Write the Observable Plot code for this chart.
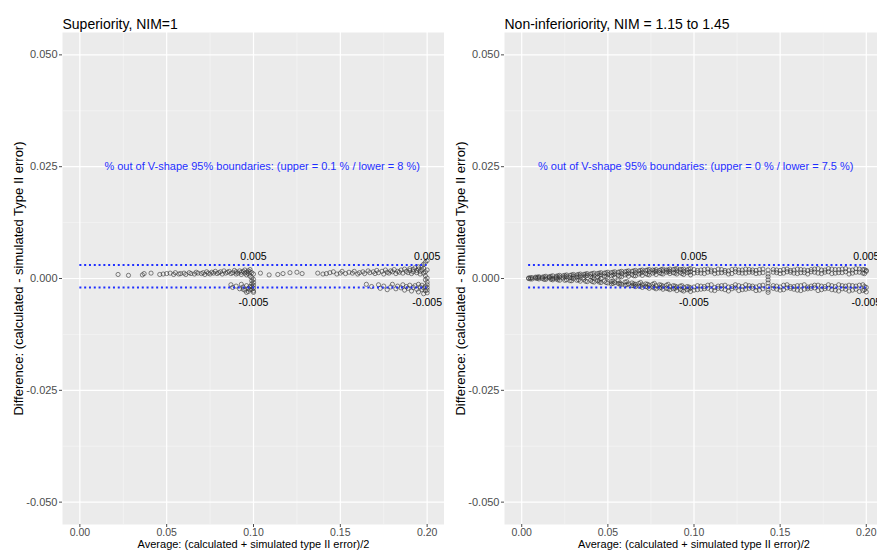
<!DOCTYPE html>
<html>
<head>
<meta charset="utf-8">
<script src="https://cdn.jsdelivr.net/npm/d3@7"></script>
<script src="https://cdn.jsdelivr.net/npm/@observablehq/plot@0.6"></script>
<style>
  html, body { margin: 0; padding: 0; background: white; }
  #wrap { width: 877px; height: 553px; overflow: hidden; display: flex; flex-direction: row; }
  #wrap svg { display: block; flex: none; }
</style>
</head>
<body>
<div id="wrap"></div>
<script>
// ---------- tick values ----------
const xTicks = [0, 0.05, 0.10, 0.15, 0.20];
const xMinor = [0.025, 0.075, 0.125, 0.175];
const yTicks = [-0.050, -0.025, 0.000, 0.025, 0.050];
const yMinor = [-0.0375, -0.0125, 0.0125, 0.0375];

// ---------- text ----------
const titleSup = "Superiority, NIM=1";
const titleNI = "Non-inferioriority, NIM = 1.15 to 1.45";
const xTitle = "Average: (calculated + simulated type II error)/2";
const yTitle = "Difference: (calculated - simulated Type II error)";
const noteSup = "% out of V-shape 95% boundaries: (upper = 0.1 % / lower = 8 %)";
const noteNI = "% out of V-shape 95% boundaries: (upper = 0 % / lower = 7.5 %)";

// boundary lines (dotted) and their labels
const boundsY = [0.003, -0.002];
const boundLabels = [
  {x: 0.10, y: 0.0049, t: "0.005"},
  {x: 0.20, y: 0.0049, t: "0.005"},
  {x: 0.10, y: -0.0054, t: "-0.005"},
  {x: 0.20, y: -0.0054, t: "-0.005"}
];

// ---------- Superiority panel points [average, difference] ----------
const supPoints = [
  [0.022,0.0009],[0.028,0.0007],[0.036,0.0008],[0.037,0.0011],[0.041,0.0012],[0.046,0.0009],
  [0.048,0.0010],[0.050,0.0011],[0.052,0.0012],[0.054,0.0009],[0.055,0.0013],[0.057,0.0010],
  [0.058,0.0011],[0.060,0.0012],[0.061,0.0009],[0.063,0.0013],[0.064,0.0011],[0.066,0.0010],
  [0.067,0.0014],[0.068,0.0012],[0.070,0.0011],[0.071,0.0013],[0.072,0.0009],[0.073,0.0015],
  [0.074,0.0012],[0.075,0.0010],[0.076,0.0014],[0.077,0.0012],[0.078,0.0016],[0.079,0.0011],
  [0.080,0.0013],[0.081,0.0015],[0.082,0.0010],[0.083,0.0017],[0.084,0.0012],[0.085,0.0014],
  [0.086,0.0016],[0.087,0.0011],[0.088,0.0013],[0.089,0.0018],[0.090,0.0015],[0.090,0.0010],
  [0.091,0.0012],[0.092,0.0017],[0.093,0.0014],[0.093,0.0009],[0.094,0.0016],[0.095,0.0012],
  [0.095,0.0019],[0.096,0.0014],[0.096,0.0008],[0.097,0.0017],[0.097,0.0011],[0.098,0.0015],
  [0.098,0.0005],[0.098,0.0020],[0.099,0.0013],[0.099,0.0002],[0.099,-0.0005],[0.099,-0.0012],
  [0.099,-0.0018],[0.099,-0.0024],[0.100,0.0010],[0.100,-0.0002],[0.100,-0.0009],[0.100,-0.0015],
  [0.100,-0.0021],[0.100,-0.0028],[0.100,-0.0031],
  [0.087,-0.0014],[0.088,-0.0020],[0.090,-0.0017],[0.092,-0.0023],[0.093,-0.0013],[0.094,-0.0019],
  [0.095,-0.0026],[0.096,-0.0016],[0.097,-0.0022],[0.097,-0.0029],[0.098,-0.0018],[0.098,-0.0025],
  [0.096,-0.0031],[0.094,-0.0024],
  [0.104,0.0012],[0.109,0.0008],[0.114,0.0009],[0.117,0.0011],[0.121,0.0013],[0.125,0.0014],
  [0.128,0.0011],[0.137,0.0012],[0.140,0.0010],[0.142,0.0011],[0.144,0.0013],[0.146,0.0015],
  [0.148,0.0010],[0.150,0.0012],[0.151,0.0016],[0.153,0.0011],[0.155,0.0014],[0.157,0.0012],
  [0.158,0.0016],[0.160,0.0010],[0.161,0.0013],[0.163,0.0015],[0.164,0.0011],[0.166,0.0017],
  [0.167,0.0013],[0.169,0.0015],[0.170,0.0011],[0.171,0.0018],[0.172,0.0013],[0.174,0.0016],
  [0.175,0.0010],[0.176,0.0019],[0.177,0.0014],[0.178,0.0012],[0.179,0.0017],[0.180,0.0015],
  [0.181,0.0020],[0.182,0.0011],[0.183,0.0016],[0.184,0.0014],[0.185,0.0019],[0.186,0.0012],
  [0.187,0.0021],[0.188,0.0016],[0.189,0.0013],[0.190,0.0018],[0.190,0.0022],[0.191,0.0011],
  [0.192,0.0015],[0.192,0.0020],[0.193,0.0024],[0.194,0.0013],[0.194,0.0018],[0.195,0.0021],
  [0.195,0.0026],[0.196,0.0010],[0.196,0.0016],[0.197,0.0019],[0.197,0.0028],[0.198,0.0012],
  [0.198,0.0023],[0.198,0.0032],[0.199,0.0015],[0.199,0.0036],[0.199,0.0006],[0.199,-0.0003],
  [0.200,0.0019],[0.200,0.0040],[0.200,0.0001],[0.200,-0.0008],[0.200,-0.0014],[0.200,-0.0020],
  [0.200,-0.0026],[0.200,-0.0032],
  [0.165,-0.0013],[0.168,-0.0018],[0.172,-0.0014],[0.173,-0.0022],[0.175,-0.0017],[0.177,-0.0025],
  [0.179,-0.0019],[0.180,-0.0013],[0.182,-0.0023],[0.183,-0.0017],[0.185,-0.0021],[0.186,-0.0014],
  [0.187,-0.0026],[0.188,-0.0018],[0.189,-0.0022],[0.190,-0.0015],[0.191,-0.0028],[0.192,-0.0020],
  [0.193,-0.0016],[0.194,-0.0024],[0.195,-0.0013],[0.195,-0.0030],[0.196,-0.0019],[0.197,-0.0025],
  [0.197,-0.0015],[0.198,-0.0021],[0.198,-0.0034],[0.199,-0.0018],[0.199,-0.0027]
];

// ---------- Non-inferiority panel: columns [average, [differences...]] ----------
const niColumns = [
  [0.004,[0.0001,0.0000]],[0.005,[0.0002,-0.0001]],[0.006,[0.0002,-0.0001]],[0.008,[0.0001,0.0003]],
  [0.009,[0.0003,0.0000]],[0.010,[0.0002,-0.0001,0.0004]],[0.012,[0.0003,0.0000]],
  [0.013,[0.0004,-0.0002]],[0.014,[0.0005,0.0001,-0.0002]],[0.016,[0.0004,0.0002]],
  [0.017,[0.0005,0.0001,-0.0002]],[0.018,[0.0006,0.0000,-0.0003]],[0.020,[0.0005,0.0002,-0.0001]],
  [0.021,[0.0006,0.0001,-0.0003]],[0.022,[0.0007,0.0003,-0.0004]],[0.024,[0.0006,0.0001]],
  [0.025,[0.0007,0.0003,-0.0004]],[0.026,[0.0008,0.0004,-0.0003]],[0.028,[0.0007,0.0002,-0.0005]],
  [0.029,[0.0008,0.0001,-0.0005]],[0.030,[0.0009,0.0005,0.0000]],[0.032,[0.0008,0.0003,-0.0004]],
  [0.033,[0.0009,0.0004,-0.0003]],[0.034,[0.0010,0.0006,-0.0006]],[0.036,[0.0009,0.0002,-0.0002]],
  [0.037,[0.0010,0.0005,-0.0006]],[0.038,[0.0011,0.0007,-0.0007]],[0.040,[0.0010,0.0004,-0.0004]],
  [0.041,[0.0011,0.0002,-0.0007]],[0.042,[0.0012,0.0006,-0.0008,0.0001]],[0.044,[0.0011,0.0003,-0.0005]],
  [0.045,[0.0012,0.0007,-0.0004,-0.0008]],[0.046,[0.0013,0.0008,-0.0009,0.0000]],
  [0.048,[0.0012,0.0005,-0.0006]],[0.049,[0.0013,0.0004,-0.0009]],
  [0.050,[0.0014,0.0009,-0.0010,0.0002]],[0.052,[0.0013,0.0006,-0.0007,-0.0012]],
  [0.053,[0.0014,0.0008,-0.0006,-0.0011]],[0.054,[0.0015,0.0010,0.0003,-0.0009]],
  [0.056,[0.0014,0.0007,-0.0011,-0.0005]],[0.057,[0.0015,0.0005,-0.0010,-0.0013]],
  [0.058,[0.0016,0.0011,0.0004,-0.0013]],[0.060,[0.0015,0.0008,-0.0008,-0.0015]],
  [0.061,[0.0016,0.0010,-0.0007,-0.0014]],[0.062,[0.0017,0.0012,0.0005,-0.0012]],
  [0.064,[0.0016,0.0009,-0.0010,-0.0016]],[0.065,[0.0017,0.0006,-0.0012,-0.0016]],
  [0.066,[0.0018,0.0013,0.0006,-0.0013,-0.0018]],[0.068,[0.0017,0.0010,-0.0011,-0.0017]],
  [0.069,[0.0018,0.0012,-0.0009,-0.0017]],[0.070,[0.0019,0.0014,0.0007,-0.0014,-0.0020]],
  [0.072,[0.0018,0.0011,-0.0012,-0.0018]],[0.073,[0.0019,0.0009,-0.0013,-0.0019]],
  [0.074,[0.0020,0.0015,0.0008,-0.0015,-0.0022]],[0.076,[0.0019,0.0012,-0.0013,-0.0019]],
  [0.077,[0.0018,0.0014,-0.0011,-0.0021]],[0.078,[0.0020,0.0016,0.0009,-0.0016,-0.0023]],
  [0.080,[0.0018,0.0013,-0.0014,-0.0021]],[0.081,[0.0020,0.0011,-0.0015,-0.0020]],
  [0.082,[0.0021,0.0017,0.0010,-0.0017,-0.0024]],[0.084,[0.0019,0.0014,-0.0015,-0.0022]],
  [0.085,[0.0019,0.0015,-0.0013,-0.0023]],[0.086,[0.0021,0.0016,0.0011,-0.0018,-0.0025]],
  [0.088,[0.0020,0.0013,-0.0016,-0.0023]],[0.089,[0.0021,0.0012,-0.0017,-0.0022]],
  [0.090,[0.0022,0.0017,0.0010,-0.0019,-0.0027]],[0.092,[0.0020,0.0014,-0.0017,-0.0024]],
  [0.093,[0.0020,0.0011,-0.0016,-0.0026]],[0.094,[0.0021,0.0016,0.0009,-0.0020,-0.0028]],
  [0.096,[0.0019,0.0013,-0.0018,-0.0025]],[0.097,[0.0021,0.0014,-0.0019,-0.0024]],
  [0.098,[0.0022,0.0015,0.0008,-0.0021,-0.0029]],[0.100,[0.0020,0.0012,-0.0019,-0.0026]],
  [0.102,[0.0018,0.0013,-0.0016,-0.0025]],[0.104,[0.0019,0.0012,-0.0017,-0.0024]],
  [0.106,[0.0020,0.0011,-0.0018,-0.0023]],[0.108,[0.0021,0.0014,-0.0015,-0.0022]],
  [0.110,[0.0019,0.0015,-0.0014,-0.0026]],[0.112,[0.0018,0.0011,-0.0020,-0.0027]],
  [0.114,[0.0021,0.0012,-0.0017,-0.0022]],[0.116,[0.0020,0.0013,-0.0016,-0.0023]],
  [0.118,[0.0018,0.0014,-0.0015,-0.0025]],[0.120,[0.0017,0.0010,-0.0019,-0.0028]],
  [0.122,[0.0020,0.0011,-0.0018,-0.0023]],[0.124,[0.0021,0.0015,-0.0014,-0.0021]],
  [0.126,[0.0019,0.0013,-0.0016,-0.0027]],[0.128,[0.0019,0.0012,-0.0018,-0.0025]],
  [0.130,[0.0021,0.0012,-0.0014,-0.0024]],[0.132,[0.0020,0.0014,-0.0016,-0.0022]],
  [0.134,[0.0019,0.0014,-0.0017,-0.0022]],[0.136,[0.0018,0.0011,-0.0019,-0.0027]],
  [0.138,[0.0020,0.0012,-0.0016,-0.0026]],[0.140,[0.0021,0.0013,-0.0015,-0.0023]],
  [0.143,[0.0019,0.0010,0.0004,-0.0003,-0.0010,-0.0018,-0.0026,-0.0031]],
  [0.146,[0.0020,0.0014,-0.0016,-0.0022]],[0.148,[0.0019,0.0013,-0.0017,-0.0024]],
  [0.150,[0.0018,0.0011,-0.0019,-0.0026]],[0.152,[0.0020,0.0012,-0.0015,-0.0025]],
  [0.154,[0.0021,0.0015,-0.0014,-0.0021]],[0.156,[0.0018,0.0014,-0.0018,-0.0022]],
  [0.158,[0.0019,0.0012,-0.0018,-0.0024]],[0.160,[0.0021,0.0011,-0.0016,-0.0026]],
  [0.162,[0.0020,0.0013,-0.0016,-0.0027]],[0.164,[0.0019,0.0013,-0.0014,-0.0024]],
  [0.166,[0.0018,0.0010,-0.0019,-0.0023]],[0.168,[0.0020,0.0015,-0.0017,-0.0022]],
  [0.170,[0.0021,0.0014,-0.0015,-0.0021]],[0.172,[0.0022,0.0012,-0.0015,-0.0027]],
  [0.174,[0.0019,0.0011,-0.0017,-0.0025]],[0.176,[0.0019,0.0014,-0.0018,-0.0023]],
  [0.178,[0.0022,0.0015,-0.0014,-0.0022]],[0.180,[0.0021,0.0011,-0.0016,-0.0025]],
  [0.182,[0.0020,0.0012,-0.0018,-0.0026]],[0.184,[0.0020,0.0013,-0.0014,-0.0028]],
  [0.186,[0.0021,0.0013,-0.0016,-0.0023]],[0.188,[0.0022,0.0015,-0.0017,-0.0024]],
  [0.190,[0.0019,0.0010,-0.0015,-0.0028]],[0.192,[0.0019,0.0012,-0.0016,-0.0026]],
  [0.194,[0.0022,0.0014,-0.0017,-0.0024]],[0.196,[0.0021,0.0014,-0.0015,-0.0029]],
  [0.198,[0.0020,0.0012,-0.0014,-0.0027]],[0.199,[0.0020,0.0011,-0.0018,-0.0025]],
  [0.200,[0.0018,0.0016,-0.0020,-0.0030]]
];

// ---------- build ----------
const supData = supPoints.map(([x, y]) => ({x, y}));
const niData = niColumns.flatMap(([x, ys]) => ys.map(y => ({x, y})));

function panel({title, data, note, noteX, width, marginLeft, lineX1}) {
  const lines = boundsY.map(y => ({y, x1: lineX1, x2: 0.2}));
  return Plot.plot({
    width, height: 553,
    marginLeft, marginRight: 0, marginTop: 32, marginBottom: 29,
    style: {fontFamily: "'Liberation Sans', Arial, sans-serif", background: "white", overflow: "visible"},
    x: {domain: [-0.01, 0.21]},
    y: {domain: [-0.055, 0.055]},
    marks: [
      Plot.frame({fill: "#ebebeb", stroke: null}),
      Plot.ruleX(xMinor, {x: d => d, stroke: "#f7f7f7", strokeWidth: 0.6}),
      Plot.ruleY(yMinor, {y: d => d, stroke: "#f7f7f7", strokeWidth: 0.6}),
      Plot.ruleX(xTicks, {x: d => d, stroke: "white", strokeWidth: 1.2}),
      Plot.ruleY(yTicks, {y: d => d, stroke: "white", strokeWidth: 1.2}),
      Plot.dot(data, {x: "x", y: "y", r: 2.1, stroke: "#333", strokeWidth: 0.6, fill: "none"}),
      Plot.ruleY(lines, {y: "y", x1: "x1", x2: "x2", stroke: "#1f2fff", strokeWidth: 2, strokeDasharray: "2,2.8"}),
      Plot.text(boundLabels, {x: "x", y: "y", text: "t", fontSize: 10.5, fill: "black"}),
      Plot.text([note], {x: () => noteX, y: () => 0.025, text: d => d, fontSize: 11, fill: "#1f2fff"}),
      Plot.axisX({ticks: xTicks, tickFormat: d => d.toFixed(2), tickSize: 3, tickPadding: 1, fontSize: 10.5, label: null, color: "#4d4d4d"}),
      Plot.axisY({ticks: yTicks, tickFormat: d => d.toFixed(3), tickSize: 3, tickPadding: 2, fontSize: 11, label: null, color: "#4d4d4d"}),
      Plot.text([xTitle], {frameAnchor: "bottom", dy: 23, text: d => d, fontSize: 11, fill: "black"}),
      Plot.text([yTitle], {frameAnchor: "left", dx: -44, rotate: -90, textAnchor: "middle", text: d => d, fontSize: 13, fill: "black"}),
      Plot.text([title], {frameAnchor: "top-left", textAnchor: "start", dy: -13, text: d => d, fontSize: 14, fill: "black"})
    ]
  });
}

const wrap = document.getElementById("wrap");
wrap.append(panel({title: titleSup, data: supData, note: noteSup, noteX: 0.105, width: 444, marginLeft: 62, lineX1: 0}));
wrap.append(panel({title: titleNI, data: niData, note: noteNI, noteX: 0.101, width: 439, marginLeft: 60, lineX1: 0.004}));
</script>
</body>
</html>
